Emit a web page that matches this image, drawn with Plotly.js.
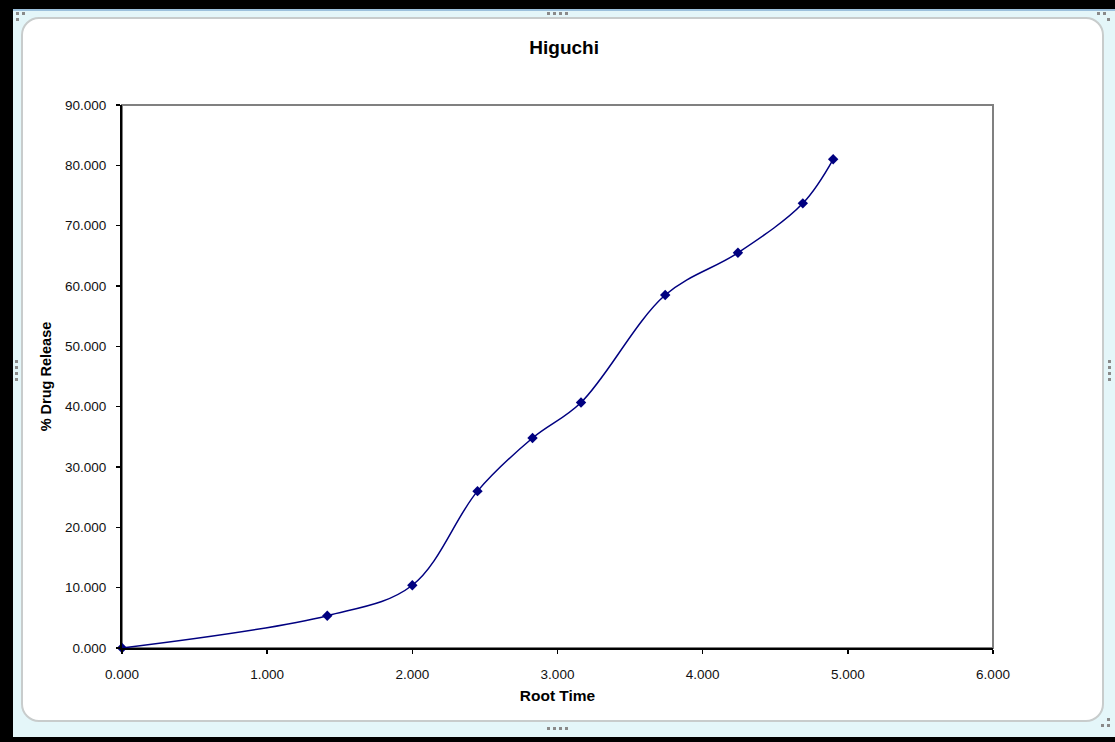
<!DOCTYPE html>
<html>
<head>
<meta charset="utf-8">
<script src="https://cdn.plot.ly/plotly-3.0.1.min.js"></script>
<style>
  html, body { margin:0; padding:0; width:1115px; height:742px; overflow:hidden; background:#000; }
  #frame { position:absolute; left:13px; top:9px; width:1102px; height:728px; background:#e4f6f9; border-top:2px solid #9cc0dc; box-sizing:border-box; }
  #panel { position:absolute; left:21px; top:17px; width:1083px; height:705px; background:#fff; border:2px solid #c8cccc; border-radius:18px; box-sizing:border-box; }
  .dot { position:absolute; width:3px; height:3px; background:#8a8a8a; }
  #chart { position:absolute; left:0; top:0; width:1115px; height:742px; }
</style>
</head>
<body>
<div id="frame"></div>
<div id="panel"></div>
<div class="dot" style="left:16px;top:12px"></div><div class="dot" style="left:22px;top:12px"></div><div class="dot" style="left:16px;top:18px"></div>
<div class="dot" style="left:1097px;top:12px"></div><div class="dot" style="left:1103px;top:12px"></div><div class="dot" style="left:1107px;top:18px"></div>
<div class="dot" style="left:1107px;top:718px"></div><div class="dot" style="left:1101px;top:724px"></div><div class="dot" style="left:1107px;top:724px"></div>
<div class="dot" style="left:547px;top:727px"></div><div class="dot" style="left:553px;top:727px"></div><div class="dot" style="left:559px;top:727px"></div><div class="dot" style="left:565px;top:727px"></div>
<div class="dot" style="left:547px;top:12px"></div><div class="dot" style="left:553px;top:12px"></div><div class="dot" style="left:559px;top:12px"></div><div class="dot" style="left:565px;top:12px"></div>
<div class="dot" style="left:15px;top:360px"></div><div class="dot" style="left:15px;top:366px"></div><div class="dot" style="left:15px;top:372px"></div><div class="dot" style="left:15px;top:378px"></div>
<div class="dot" style="left:1108px;top:360px"></div><div class="dot" style="left:1108px;top:366px"></div><div class="dot" style="left:1108px;top:372px"></div><div class="dot" style="left:1108px;top:378px"></div>
<div id="chart"></div>
<script>
// Data
const rootTime = [0.000, 1.414, 2.000, 2.449, 2.828, 3.162, 3.742, 4.243, 4.690, 4.899];
const drugRelease = [0.000, 5.35, 10.4, 26.0, 34.8, 40.7, 58.5, 65.5, 73.7, 81.0];

const chartTitle = "Higuchi";
const xTitle = "Root Time";
const yTitle = "% Drug Release";

const font = "Arial, 'Liberation Sans', sans-serif";

const trace = {
  x: rootTime,
  y: drugRelease,
  type: 'scatter',
  mode: 'lines+markers',
  line: { color: '#000080', width: 1.5, shape: 'spline', smoothing: 1 },
  marker: { symbol: 'diamond', size: 8, color: '#000080' },
  hoverinfo: 'x+y',
  cliponaxis: false
};

const layout = {
  width: 1115,
  height: 742,
  autosize: false,
  margin: { l: 122, r: 122, t: 105, b: 94, pad: 0 },
  paper_bgcolor: 'rgba(0,0,0,0)',
  plot_bgcolor: '#ffffff',
  showlegend: false,
  title: {
    text: '<b>' + chartTitle + '</b>',
    font: { family: font, size: 19, color: '#000' },
    x: 566 / 1115, xref: 'paper', xanchor: 'center',
    y: 1 - 47 / 742, yanchor: 'middle'
  },
  xaxis: {
    range: [0, 6],
    dtick: 1,
    tick0: 0,
    tickformat: '.3f',
    ticks: 'outside',
    ticklen: 4,
    tickwidth: 1.5,
    tickcolor: '#000',
    showline: true,
    linecolor: '#000',
    linewidth: 2,
    showgrid: false,
    zeroline: false,
    ticklabelstandoff: 9,
    tickfont: { family: font, size: 13.5, color: '#111' },
    title: { text: '<b>' + xTitle + '</b>', font: { family: font, size: 15.5, color: '#000' }, standoff: 9 },
    fixedrange: true
  },
  yaxis: {
    range: [0, 90],
    dtick: 10,
    tick0: 0,
    tickformat: '.3f',
    ticks: 'outside',
    ticklen: 4,
    tickwidth: 1.5,
    tickcolor: '#000',
    showline: true,
    linecolor: '#000',
    linewidth: 2,
    showgrid: false,
    zeroline: false,
    ticklabelstandoff: 7,
    tickfont: { family: font, size: 13.5, color: '#111' },
    title: { text: '<b>' + yTitle + '</b>', font: { family: font, size: 14.5, color: '#000' }, standoff: 10 },
    fixedrange: true
  },
  shapes: [
    { type: 'rect', xref: 'paper', yref: 'paper', x0: 0, x1: 1, y0: 0, y1: 1,
      line: { color: '#808080', width: 2 }, layer: 'below' }
  ]
};

Plotly.newPlot('chart', [trace], layout, { displayModeBar: false, staticPlot: true });
</script>
</body>
</html>
